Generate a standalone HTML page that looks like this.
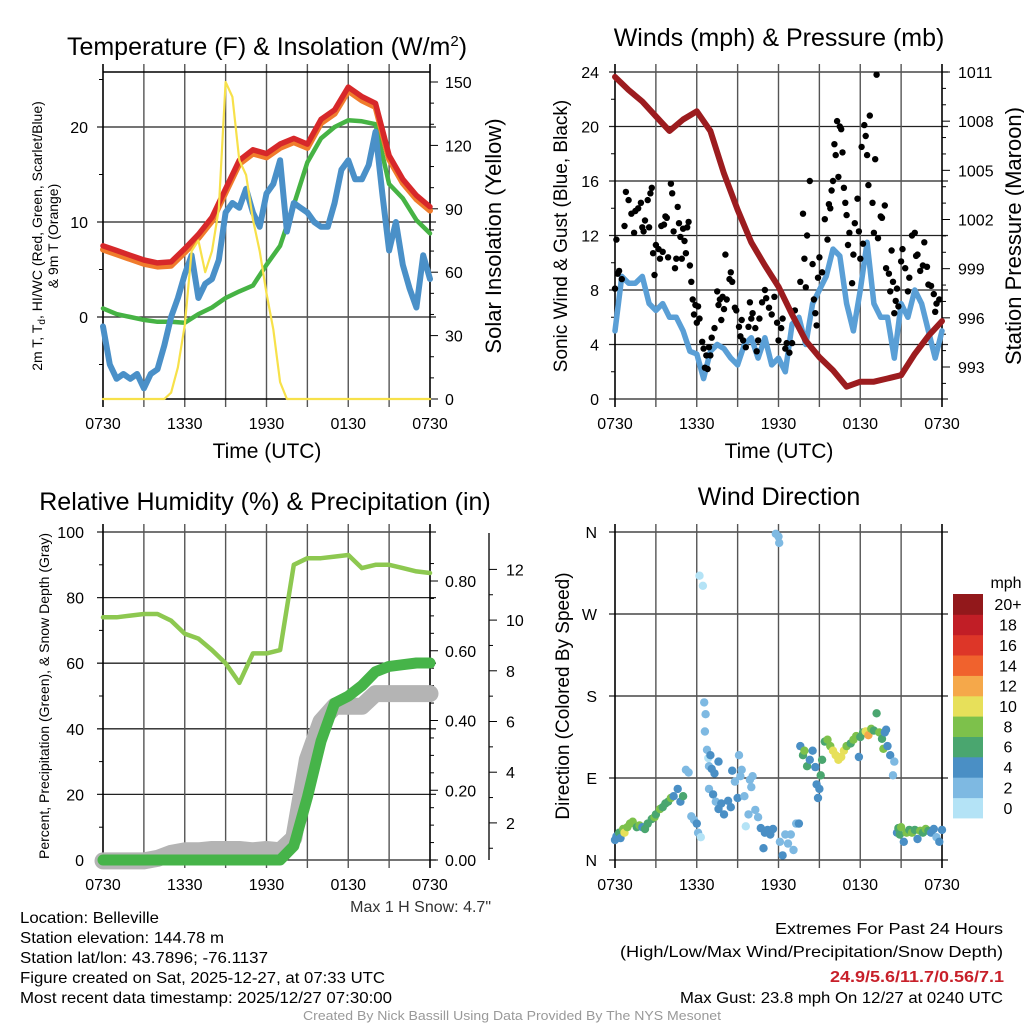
<!DOCTYPE html>
<html><head><meta charset="utf-8"><style>
html,body{margin:0;padding:0;background:#fff;}
svg{display:block;font-family:"Liberation Sans Narrow","Liberation Sans",sans-serif;}
</style></head><body>
<svg id="c" width="1024" height="1024" viewBox="0 0 1024 1024" xmlns="http://www.w3.org/2000/svg"></svg>
<script>
// ---------- DATA ----------
const timeLabels = ["0730","1330","1930","0130","0730"];
const tempRed = [7.5,7,6.5,6,5.7,5.8,7.2,8.7,10.5,13.5,16.5,17.6,17.2,18.2,18.8,18.2,20.8,21.8,24.2,23.2,22.5,17,14.5,12.8,11.6];
const tempOrange = [7.1,6.6,6.1,5.6,5.3,5.4,6.8,8.3,10.1,13.1,16.1,17.2,16.8,17.8,18.4,17.8,20.4,21.4,23.8,22.8,22.1,16.6,14.1,12.4,11.2];
const dewGreen = [0.9,0.3,0,-0.3,-0.5,-0.5,-0.6,0.3,1,2,2.7,3.3,5.5,7.5,11.8,16.3,18.8,20,20.7,20.6,20.3,14,12.5,10.2,8.8];
const chillBlue = [-1,-5,-6.5,-6,-6.5,-6,-7.5,-6,-5.5,-3,0,2,4.5,6.5,2,3.5,4,6,11,12,11.5,13.5,11,9.5,13,14,16.5,9,12,11.5,11,10,9.5,9.5,12,15.5,16.5,14.5,14.5,16,19.5,13,7,10,5.5,3,1,6.5,4];
const solarYellow = [0,0,0,0,0,0,0,0,0,0,3,15,35,70,75,60,70,90,150,143,113,106,85,70,50,33,8,0,0,0,0,0,0,0,0,0,0,0,0,0,0,0,0,0,0,0,0,0,0];
const tempTicks = [0,10,20];
const solarTicks = [0,30,60,90,120,150];
const windBlue = [5,9,8.5,8.5,9,7,6.5,7,6,6,5,3.5,3.3,1.5,3.5,4,3.7,3,2.5,4,4.5,3,4.5,2.5,3,2,5.5,6,4,7,8,9,11,10.5,7,5,8,11.5,7,6,6,3,7,6,8,7,5,3,5];
const pressure = [1010.7,1009.9,1009.2,1008.3,1007.4,1008.1,1008.6,1007.4,1004.8,1002.6,1000.6,999.2,997.9,996.2,994.6,993.6,992.8,991.8,992.1,992.1,992.3,992.5,993.8,994.9,995.8];
const gustT = [0,0.1,0.2,0.3,0.5,0.7,0.8,1,1.2,1.4,1.5,1.7,1.9,2,2.1,2.2,2.4,2.5,2.6,2.7,2.9,2.8,3,3.2,3.3,3.4,3.5,3.6,3.7,3.8,3.9,4.1,4.2,4.3,4.4,4.5,4.6,4.7,4.8,4.9,5,5.1,5.2,5.3,5.4,5.5,5.6,5.7,5.8,5.9,6,6.1,6.2,6.4,6.5,6.6,6.7,6.8,6.9,7,7.1,7.3,7.5,7.6,7.7,7.8,7.9,8,8.1,8.2,8.4,8.5,8.6,8.8,8.9,9.1,9.2,9.3,9.4,9.6,9.8,9.9,10,10.1,10.3,10.4,10.5,10.6,10.8,11,11.1,11.3,11.5,11.7,11.9,12,12.2,12.3,12.5,12.6,12.8,13,13.2,13.6,13.8,13.9,14,14.1,14.3,14.5,14.6,14.7,14.8,14.9,15,15.2,15.4,15.6,15.7,15.8,15.9,16,16.1,16.2,16.3,16.4,16.5,16.6,16.7,16.8,16.9,17,17.1,17.2,17.4,17.5,17.6,17.8,17.9,18,18.1,18.2,18.3,18.4,18.5,18.6,18.7,18.9,19,19.1,19.2,19.3,19.5,19.6,19.8,19.9,20.1,20.2,20.3,20.4,20.5,20.6,20.7,20.8,21,21.1,21.3,21.5,21.6,21.8,22,22.1,22.2,22.4,22.6,22.7,22.9,23,23.2,23.4,23.5,23.6,23.8];
const gustV = [8.1,11.7,9.2,9.4,8.8,12.7,15.2,14.6,13.6,12.2,13.8,14,14.4,12.6,12.3,13.1,14.6,12.6,15.1,15.5,9.1,10.7,11.3,11,10.3,12.7,10.8,12.8,13.4,13.3,10.4,15.8,15.1,12.3,9.6,10.3,14.1,12.9,11.9,10.3,12.5,11.6,10.7,12.6,13,9.8,8.6,7.3,6.2,6.9,5.6,6.8,5.9,4.2,3.7,2.3,3.2,2.2,3.8,3.2,4.5,5.2,7.9,6.9,7.3,5.8,7.5,6.6,10.6,7.3,8.8,9.3,8.6,6.7,6.5,5.3,4.6,5.8,4.3,3.8,5.3,7.1,5.9,6.3,5.2,3.5,4.3,5.9,7.1,8,7.4,6.7,6.2,7.5,5.6,4.3,5.2,5.9,3.7,4.1,3.4,4.1,6.5,8.6,13.6,10.3,8.2,12,16,9.9,7.3,6.3,5.4,8.9,10.4,9.3,13.2,11.7,14.3,14,15.3,16,18.7,17.9,20.4,16.3,20,19.8,18.1,15.5,14.4,13.5,11.3,12.2,8.5,10.6,12.9,14.7,12.3,10.3,18.5,11.4,20.1,19.3,17.9,15.7,20.8,14.4,12.2,17.6,23.8,11.8,13.4,13.3,14.2,9.6,9.2,7.9,10.9,8.6,6.3,7.2,8.1,6.8,10.1,11,9.6,7.9,8.9,12,12.2,10.5,10.6,9.4,9.8,11.5,9.7,8.4,8.3,7.7,6.4,7,7.3];
const windTicks = [0,4,8,12,16,20,24];
const pressTicks = [993,996,999,1002,1005,1008,1011];
const rhLight = [74,74,74.5,75,75,73,69,67.5,64,60,54,63,63,64,90,92,92,92.5,93,89,90,90,89,88,87.5];
const precip = [0,0,0,0,0,0,0,0,0,0,0,0,0,0,0.04,0.18,0.34,0.45,0.47,0.5,0.54,0.555,0.56,0.565,0.565];
const snowDepth = [0.5,0.5,0.5,0.5,0.6,0.8,0.9,0.9,0.95,0.95,0.95,0.9,0.95,0.9,1.4,4.5,6,6.6,6.6,6.6,7.1,7.1,7.1,7.1,7.1];
const rhTicks = [0,20,40,60,80,100];
const precipTicks = [0,0.2,0.4,0.6,0.8];
const precipLabels = ["0.00","0.20","0.40","0.60","0.80"];
const snowTicks = [2,4,6,8,10,12];
const dirT = [0,0.1,0.3,0.4,0.6,0.7,0.9,1.1,1.3,1.6,1.8,2.0,
2.2,2.4,2.7,2.9,3.0,3.3,3.5,3.7,3.9,4.1,4.3,4.6,
4.8,5.0,5.2,5.4,5.6,5.8,6.0,6.1,6.2,6.3,6.45,6.55,
6.65,6.6,6.75,6.85,6.9,7.0,7.1,7.3,7.6,6.9,7.2,7.4,
7.6,7.8,8.0,8.3,8.5,8.6,8.8,9.0,9.1,9.2,9.3,9.5,
9.6,9.8,9.9,10.0,10.1,10.3,10.5,10.7,10.9,11.0,11.2,11.4,
11.6,11.8,12.0,12.05,12.1,12.3,12.5,12.7,12.9,13.1,13.3,13.5,
13.6,13.8,13.9,14.1,14.3,14.5,14.7,14.8,14.9,15.0,15.1,15.2,
15.4,15.6,15.8,16.0,16.2,16.4,16.6,16.8,17.0,17.3,17.5,17.7,
17.9,18.0,18.2,18.4,18.6,18.8,19.0,19.2,19.4,19.6,19.7,19.8,
19.9,20.0,20.2,20.4,20.5,20.7,20.8,20.9,21.0,21.2,21.4,21.6,
21.8,22.0,22.2,22.4,22.6,22.8,23.0,23.2,23.4,23.6,23.8,24.0];
const dirDeg = [22,26,30,24,34,30,36,40,42,36,38,36,
34,40,45,47,50,56,58,62,64,68,70,78,
64,70,99,96,48,44,40,30,312,25,301,173,
160,141,121,112,103,115,100,95,108,78,72,64,
56,62,50,65,58,98,86,68,115,92,99,70,
37,50,88,80,92,55,47,35,13,30,33,28,
34,358,355,348,20,5,28,18,28,11,40,40,
125,115,120,103,110,120,102,83,68,78,93,110,
130,132,125,120,115,110,113,120,125,128,132,136,
113,135,140,141,137,144,142,161,140,133,122,140,
143,125,115,93,108,30,35,28,36,20,30,33,
30,33,23,32,30,34,32,30,34,25,20,33];
const dirSpd = [4,4,6,4,8,10,8,8,8,6,8,4,
6,6,6,8,6,8,6,6,6,8,4,4,
4,6,2,2,2,2,4,2,0,0,0,2,
2,2,2,0,2,4,4,4,4,2,4,2,
4,4,4,4,4,4,2,4,2,2,2,2,
0,2,2,2,2,2,2,4,4,4,4,4,
4,2,2,2,2,4,2,2,2,2,2,4,
4,6,8,6,4,4,4,4,4,4,6,6,
6,8,8,10,10,10,10,10,8,6,8,8,
4,6,6,10,12,8,6,6,8,6,8,4,
4,4,4,2,2,4,6,6,8,4,8,6,
8,6,4,8,6,8,6,4,4,2,4,4];
const dirLabels = ["N","E","S","W","N"];
const speedLabels = ["0","2","4","6","8","10","12","14","16","18","20+"];
const speedColors = ["#b4e3f6","#7eb9e2","#4a8fc5","#4aa66f","#7dc14b","#e7e05a","#f5a84a","#f0622d","#dd3628","#c11e26","#92181b"];

// ---------- HELPERS ----------
const NS = "http://www.w3.org/2000/svg";
const svg = document.getElementById('c');
function mk(tag, attrs, parent) {
  const e = document.createElementNS(NS, tag);
  for (const k in attrs) e.setAttribute(k, attrs[k]);
  (parent || svg).appendChild(e);
  return e;
}
function txt(s, x, y, size, anchor, parent, extra) {
  const e = mk('text', Object.assign({x: x, y: y, 'font-size': size, 'text-anchor': anchor || 'middle', fill: '#000'}, extra || {}), parent);
  e.textContent = s;
  return e;
}
const X0L = 103, X0R = 615, PW = 327;
function xs(x0) { return t => x0 + t * PW / 24; }
function series(arr, xf, yf, color, w, parent, name) {
  const step = 24 / (arr.length - 1);
  const pts = arr.map((v, i) => xf(i * step).toFixed(1) + ',' + yf(v).toFixed(1)).join(' ');
  const p = mk('polyline', {points: pts, fill: 'none', stroke: color, 'stroke-width': w, 'stroke-linejoin': 'round', 'stroke-linecap': 'round'}, parent);
  
  
  return p;
}
function xAxis(x0, yTop, yBot, parent) {
  const xf = xs(x0);
  for (let h = 0; h <= 24; h += 3) {
    const x = xf(h);
    mk('line', {x1: x, y1: yTop - 8, x2: x, y2: yBot + 8, stroke: (h === 0 || h === 24) ? '#000' : '#555', 'stroke-width': (h === 0 || h === 24) ? 1.6 : 1.4}, parent);
  }
  timeLabels.forEach((s, i) => {
    const t = txt(s, xf(i * 6), yBot + 30, 16, 'middle', parent);
    
    
  });
}
function hgrid(y, x0, parent) { mk('line', {x1: x0 - 6, y1: y, x2: x0 + PW + 6, y2: y, stroke: '#222', 'stroke-width': 1.3}, parent); }

// ---------- PANEL 1 ----------
(function () {
  const g = mk('g', {});
  
  
  const xf = xs(X0L);
  const yT = v => 317 - 9.5 * v;
  const yS = v => 399 - v * 317 / 150;
  tempTicks.forEach(v => { hgrid(yT(v), X0L, g); txt(String(v), 88, yT(v) + 6, 16, 'end', g); });
  [-5, 5, 15, 25].forEach(v => mk('line', {x1: X0L - 4, y1: yT(v), x2: X0L, y2: yT(v), stroke: '#000'}, g));
  for (let v = 0; v <= 150; v += 10) mk('line', {x1: X0L + PW, y1: yS(v), x2: X0L + PW + (v % 30 === 0 ? 8 : 4), y2: yS(v), stroke: '#000'}, g);
  solarTicks.forEach(v => txt(String(v), 445, yS(v) + 6, 16, 'start', g));
  xAxis(X0L, 72, 399, g);
  mk('line', {x1: X0L, y1: 72, x2: X0L + PW, y2: 72, stroke: '#000', 'stroke-width': 1.5}, g);
  mk('line', {x1: X0L, y1: 399, x2: X0L + PW, y2: 399, stroke: '#000', 'stroke-width': 1.5}, g);
  series(dewGreen, xf, yT, '#46b344', 4.5, g, 'green-series');
  series(chillBlue, xf, yT, '#4a90c8', 6, g, 'blue-series');
  series(tempOrange, xf, yT, '#f07c2c', 6, g, 'orange-9m-temp');
  series(tempRed, xf, yT, '#d7282a', 5.5, g, 'red-2m-temp');
  series(solarYellow, xf, yS, '#f7e14a', 2.2, g, 'yellow-insolation');
  const t = mk('text', {x: 267, y: 55, 'font-size': 25, 'text-anchor': 'middle'}, g);
  t.innerHTML = 'Temperature (F) &amp; Insolation (W/m<tspan dy="-9" font-size="15">2</tspan><tspan dy="9">)</tspan>';
  
  
  const yl = mk('text', {transform: 'translate(42,236) rotate(-90)', 'font-size': 14, 'text-anchor': 'middle'}, g);
  yl.innerHTML = '2m T, T<tspan dy="3" font-size="10">d</tspan><tspan dy="-3">, HI/WC (Red, Green, Scarlet/Blue)</tspan>';
  txt('& 9m T (Orange)', 0, 0, 14, 'middle', g, {transform: 'translate(58,236) rotate(-90)'});
  txt('Solar Insolation (Yellow)', 0, 0, 22, 'middle', g, {transform: 'translate(501,236) rotate(-90)'});
  txt('Time (UTC)', 267, 458, 21, 'middle', g);
})();

// ---------- PANEL 2 ----------
(function () {
  const g = mk('g', {});
  
  
  const xf = xs(X0R);
  const yW = v => 399 - v * 327 / 24;
  const yP = p => 72 + (1011 - p) * 295 / 18;
  windTicks.forEach(v => { hgrid(yW(v), X0R, g); txt(String(v), 599, yW(v) + 6, 16, 'end', g); });
  for (let v = 2; v < 24; v += 4) mk('line', {x1: X0R - 4, y1: yW(v), x2: X0R, y2: yW(v), stroke: '#000'}, g);
  for (let p = 992; p <= 1011; p++) mk('line', {x1: X0R + PW, y1: yP(p), x2: X0R + PW + ((p - 993) % 3 === 0 ? 8 : 4), y2: yP(p), stroke: '#000'}, g);
  pressTicks.forEach(p => txt(String(p), 958, yP(p) + 6, 16, 'start', g));
  xAxis(X0R, 72, 399, g);
  series(windBlue, xf, yW, '#5a9fd6', 5.5, g, 'sonic-wind-line');
  gustT.forEach((t, i) => {
    const c = mk('circle', {cx: xf(t).toFixed(1), cy: yW(gustV[i]).toFixed(1), r: 3.2, fill: '#000'}, g);
    
    
  });
  series(pressure, xf, yP, '#9c1c1f', 6, g, 'pressure-line');
  txt('Winds (mph) & Pressure (mb)', 779, 46, 25, 'middle', g);
  txt('Sonic Wind & Gust (Blue, Black)', 0, 0, 19, 'middle', g, {transform: 'translate(567,236) rotate(-90)'});
  txt('Station Pressure (Maroon)', 0, 0, 22, 'middle', g, {transform: 'translate(1021,236) rotate(-90)'});
  txt('Time (UTC)', 779, 458, 21, 'middle', g);
})();

// ---------- PANEL 3 ----------
(function () {
  const g = mk('g', {});
  
  
  const xf = xs(X0L);
  const yH = v => 860 - 3.28 * v;
  const yPr = v => 860 - 348.75 * v;
  const ySn = v => 873.6 - 25.35 * v;
  rhTicks.forEach(v => { hgrid(yH(v), X0L, g); txt(String(v), 84, yH(v) + 6, 16, 'end', g); });
  for (let v = 10; v < 100; v += 20) mk('line', {x1: X0L - 4, y1: yH(v), x2: X0L, y2: yH(v), stroke: '#000'}, g);
  for (let v = 0; v <= 0.9; v += 0.05) mk('line', {x1: X0L + PW, y1: yPr(v), x2: X0L + PW + (Math.round(v * 100) % 20 === 0 ? 8 : 4), y2: yPr(v), stroke: '#000'}, g);
  precipTicks.forEach((v, i) => txt(precipLabels[i], 445, yPr(v) + 6, 16, 'start', g));
  mk('line', {x1: 489, y1: 533, x2: 489, y2: 860, stroke: '#000', 'stroke-width': 1.3}, g);
  for (let v = 1; v <= 12; v++) mk('line', {x1: 489, y1: ySn(v), x2: 489 + (v % 2 === 0 ? 8 : 4), y2: ySn(v), stroke: '#000'}, g);
  snowTicks.forEach(v => txt(String(v), 506, ySn(v) + 6, 16, 'start', g));
  xAxis(X0L, 532, 860, g);
  series(snowDepth, xf, ySn, '#b4b4b4', 17, g, 'snow-depth-line');
  series(rhLight, xf, yH, '#8dc850', 4.5, g, 'relative-humidity-line');
  series(precip, xf, yPr, '#46b449', 11, g, 'precipitation-line');
  txt('Relative Humidity (%) & Precipitation (in)', 265, 510, 25, 'middle', g);
  txt('Percent, Precipitation (Green), & Snow Depth (Gray)', 0, 0, 14, 'middle', g, {transform: 'translate(49,696) rotate(-90)'});
  txt('Max 1 H Snow: 4.7"', 491, 912, 16, 'end', g, {fill: '#333'});
})();

// ---------- PANEL 4 ----------
(function () {
  const g = mk('g', {});
  
  
  const xf = xs(X0R);
  const yD = d => 860 - d * 328 / 360;
  dirLabels.forEach((s, i) => { hgrid(yD(i * 90), X0R, g); txt(s, 597, yD(i * 90) + 6, 16, 'end', g); });
  xAxis(X0R, 532, 860, g);
  dirT.forEach((t, i) => {
    const bin = Math.min(10, Math.floor(dirSpd[i] / 2));
    const c = mk('circle', {cx: xf(t).toFixed(1), cy: yD(dirDeg[i]).toFixed(1), r: 4.2, fill: speedColors[bin]}, g);
    
    
  });
  txt('Wind Direction', 779, 505, 25, 'middle', g);
  txt('Direction (Colored By Speed)', 0, 0, 19, 'middle', g, {transform: 'translate(569,696) rotate(-90)'});
  const lg = mk('g', {}, g);
  
  
  const top = 594, bh = (818 - 594) / 11;
  speedLabels.forEach((s, i) => {
    const yy = top + (10 - i) * bh;
    mk('rect', {x: 953, y: yy.toFixed(1), width: 30, height: (bh + 0.4).toFixed(1), fill: speedColors[i]}, lg);
    txt(s, 1008, yy + bh / 2 + 6, 16, 'middle', lg);
  });
  txt('mph', 1006, 588, 16, 'middle', lg);
})();

// ---------- FOOTER ----------
(function () {
  const g = mk('g', {});
  
  
  const left = [["Location: Belleville", 139], ["Station elevation: 144.78 m", 204], ["Station lat/lon: 43.7896; -76.1137", 248], ["Figure created on Sat, 2025-12-27, at 07:33 UTC", 365], ["Most recent data timestamp: 2025/12/27 07:30:00", 372]];
  const ly = [923, 943, 963, 983, 1003];
  left.forEach((r, i) => txt(r[0], 20, ly[i], 16, 'start', g, {textLength: r[1], lengthAdjust: 'spacingAndGlyphs'}));
  txt('Extremes For Past 24 Hours', 1003, 934, 16, 'end', g, {textLength: 228, lengthAdjust: 'spacingAndGlyphs'});
  txt('(High/Low/Max Wind/Precipitation/Snow Depth)', 1003, 957, 16, 'end', g, {textLength: 383, lengthAdjust: 'spacingAndGlyphs'});
  txt('24.9/5.6/11.7/0.56/7.1', 1004, 982, 16, 'end', g, {fill: '#c8202a', 'font-weight': 'bold', textLength: 174, lengthAdjust: 'spacingAndGlyphs'});
  txt('Max Gust: 23.8 mph On 12/27 at 0240 UTC', 1003, 1003, 16, 'end', g, {textLength: 323, lengthAdjust: 'spacingAndGlyphs'});
  txt('Created By Nick Bassill Using Data Provided By The NYS Mesonet', 512, 1020, 13, 'middle', g, {fill: '#999', textLength: 418, lengthAdjust: 'spacingAndGlyphs'});
})();
</script>
</body></html>
